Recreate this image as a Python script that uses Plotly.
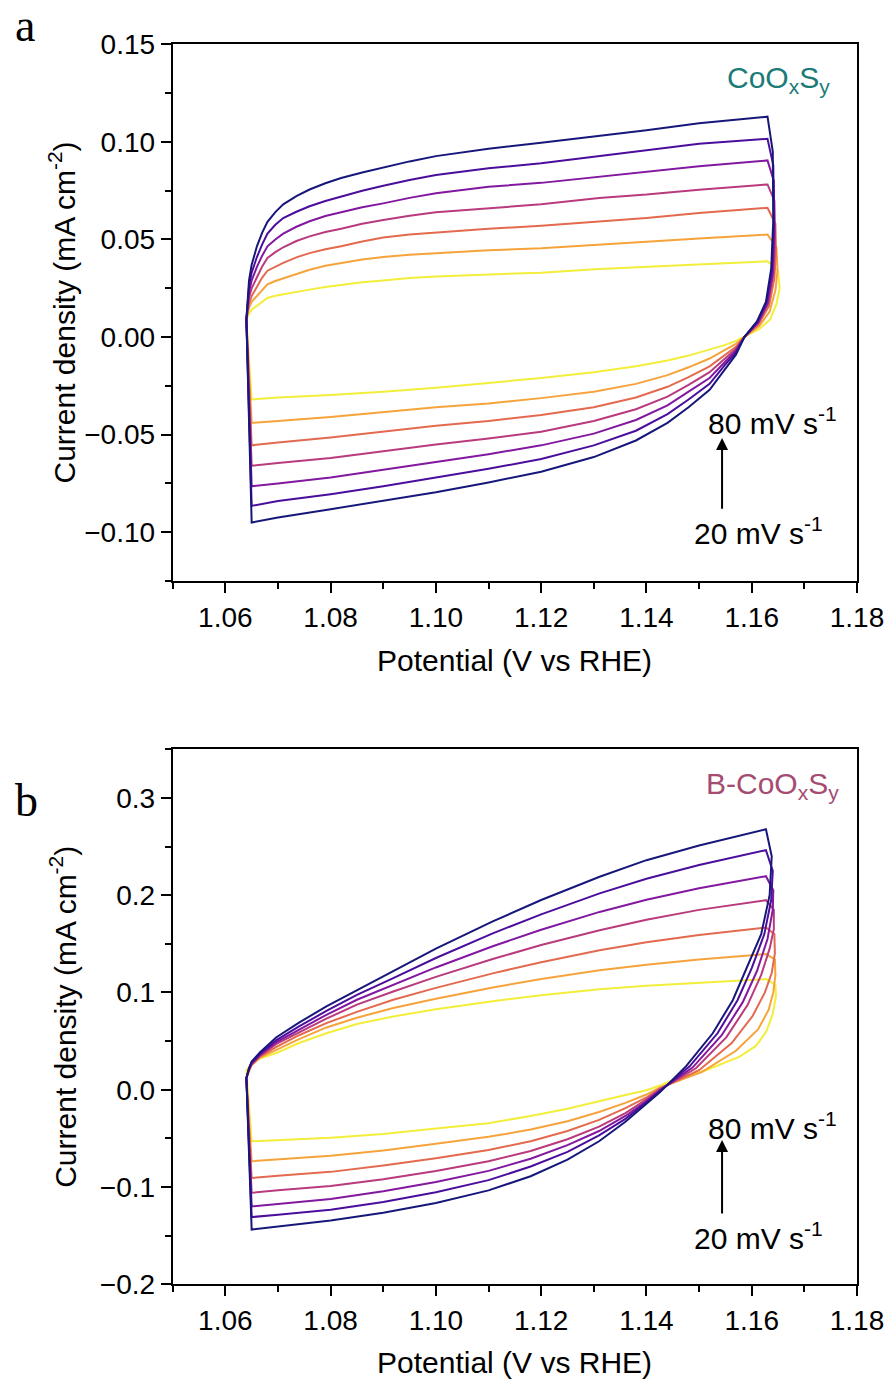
import plotly.graph_objects as go

# ---------------- data ----------------
SPEEDS = [20, 30, 40, 50, 60, 70, 80]  # mV s-1
COLORS = ["#f2ee3a", "#f6a33c", "#e3694f", "#b93a7d", "#8318a0", "#4b0e9c", "#17177b"]

# Panel a (CoOxSy) -- anodic sweep
A_V_UP = [1.0640, 1.0645, 1.0650, 1.0660, 1.0670, 1.0680, 1.0695, 1.0710, 1.0735, 1.0760,
          1.0790, 1.0820, 1.0860, 1.0900, 1.0950, 1.1000, 1.1100, 1.1200, 1.1310, 1.1400,
          1.1500, 1.1630]
A_I_UP = {
    20: [0.009, 0.012, 0.014, 0.016, 0.0182, 0.020, 0.0212, 0.022, 0.0233, 0.0243, 0.0257, 0.0268,
         0.0281, 0.029, 0.0302, 0.031, 0.032, 0.033, 0.0349, 0.036, 0.037, 0.0388],
    30: [0.009, 0.015, 0.018, 0.021, 0.0243, 0.027, 0.0287, 0.030, 0.0325, 0.0345, 0.0365, 0.038,
         0.0397, 0.041, 0.0422, 0.043, 0.0445, 0.0455, 0.0474, 0.049, 0.0505, 0.0525],
    40: [0.009, 0.017, 0.021, 0.026, 0.0305, 0.034, 0.0362, 0.038, 0.0408, 0.043, 0.045, 0.0465,
         0.049, 0.051, 0.0525, 0.0535, 0.0555, 0.057, 0.0593, 0.061, 0.0635, 0.0662],
    50: [0.009, 0.020, 0.025, 0.031, 0.0362, 0.0405, 0.0435, 0.046, 0.0492, 0.0516, 0.0538, 0.0555,
         0.058, 0.060, 0.0622, 0.064, 0.066, 0.068, 0.0713, 0.073, 0.0755, 0.0782],
    60: [0.009, 0.023, 0.029, 0.036, 0.0417, 0.0465, 0.050, 0.053, 0.0565, 0.0593, 0.062, 0.064,
         0.0665, 0.0685, 0.0713, 0.0737, 0.077, 0.079, 0.0821, 0.085, 0.0875, 0.0905],
    70: [0.009, 0.026, 0.033, 0.041, 0.0475, 0.053, 0.0575, 0.061, 0.0642, 0.067, 0.0697, 0.072,
         0.075, 0.0775, 0.0805, 0.083, 0.0865, 0.089, 0.0927, 0.096, 0.099, 0.1016],
    80: [0.009, 0.029, 0.037, 0.0465, 0.0535, 0.059, 0.064, 0.068, 0.0722, 0.0756, 0.0788, 0.0815,
         0.0843, 0.0868, 0.0900, 0.0927, 0.0965, 0.0995, 0.103, 0.106, 0.1095, 0.1129],
}
# Panel a -- switching region at the upper vertex
A_V_TURN = {
    20: [1.1650, 1.1653, 1.1647, 1.1635, 1.1614],
    30: [1.1647, 1.1649, 1.1645, 1.1634, 1.1614],
    40: [1.1645, 1.1646, 1.1643, 1.1633, 1.1613],
    50: [1.1643, 1.1644, 1.1641, 1.1631, 1.1612],
    60: [1.1642, 1.1643, 1.1640, 1.1630, 1.1612],
    70: [1.1641, 1.1642, 1.1638, 1.1628, 1.1611],
    80: [1.1640, 1.1641, 1.1637, 1.1627, 1.1610],
}
A_I_TURN = {
    20: [0.034, 0.025, 0.017, 0.009, 0.004],
    30: [0.046, 0.034, 0.024, 0.013, 0.0055],
    40: [0.058, 0.044, 0.030, 0.016, 0.0065],
    50: [0.070, 0.049, 0.032, 0.017, 0.007],
    60: [0.080, 0.054, 0.033, 0.0175, 0.0075],
    70: [0.088, 0.058, 0.034, 0.018, 0.008],
    80: [0.095, 0.060, 0.035, 0.018, 0.008],
}
# Panel a -- cathodic sweep
A_V_DOWN = [1.1586, 1.157, 1.155, 1.152, 1.148, 1.144, 1.138, 1.130, 1.120, 1.110,
            1.100, 1.090, 1.080, 1.070, 1.065]
A_I_DOWN = {
    20: [0.0, -0.002, -0.004, -0.0065, -0.0095, -0.012, -0.015, -0.018, -0.021, -0.0235, -0.026, -0.028, -0.0297, -0.031, -0.032],
    30: [0.0, -0.0035, -0.0065, -0.011, -0.0155, -0.0195, -0.024, -0.028, -0.0313, -0.034, -0.036, -0.0385, -0.041, -0.043, -0.044],
    40: [0.0, -0.005, -0.009, -0.015, -0.0205, -0.0255, -0.031, -0.036, -0.040, -0.043, -0.0455, -0.0485, -0.0515, -0.054, -0.0555],
    50: [0.0, -0.006, -0.011, -0.018, -0.0245, -0.0305, -0.037, -0.043, -0.0485, -0.052, -0.055, -0.0585, -0.062, -0.0645, -0.066],
    60: [0.0, -0.007, -0.0125, -0.021, -0.028, -0.035, -0.0425, -0.0495, -0.0555, -0.060, -0.064, -0.068, -0.072, -0.075, -0.0765],
    70: [0.0, -0.008, -0.014, -0.024, -0.032, -0.0395, -0.048, -0.0555, -0.0625, -0.0675, -0.072, -0.0765, -0.0805, -0.084, -0.0865],
    80: [0.0, -0.009, -0.016, -0.027, -0.036, -0.044, -0.053, -0.0615, -0.069, -0.0745, -0.0795, -0.084, -0.0882, -0.0925, -0.095],
}

# Panel b (B-CoOxSy) -- anodic sweep
B_V_UP = [1.0640, 1.0645, 1.0650, 1.0666, 1.0697, 1.0740, 1.0792, 1.0850, 1.0919,
          1.1000, 1.1108, 1.1200, 1.1311, 1.1400, 1.1500, 1.1627]
B_I_UP = {
    20: [0.020, 0.024, 0.027, 0.032, 0.0377, 0.048, 0.058, 0.0675, 0.0753, 0.0826, 0.091, 0.0971, 0.1032, 0.107, 0.1102, 0.1137],
    30: [0.012, 0.020, 0.025, 0.033, 0.041, 0.052, 0.064, 0.074, 0.0839, 0.0935, 0.1051, 0.1138, 0.1227, 0.1285, 0.1338, 0.1394],
    40: [0.012, 0.020, 0.026, 0.034, 0.044, 0.056, 0.0685, 0.080, 0.0925, 0.1047, 0.1196, 0.1311, 0.1433, 0.1515, 0.1591, 0.1668],
    50: [0.012, 0.021, 0.026, 0.035, 0.047, 0.059, 0.073, 0.0875, 0.101, 0.116, 0.1344, 0.1487, 0.164, 0.1747, 0.1849, 0.1949],
    60: [0.012, 0.021, 0.027, 0.036, 0.049, 0.062, 0.077, 0.0925, 0.1079, 0.1257, 0.1475, 0.1645, 0.1828, 0.1953, 0.2071, 0.2195],
    70: [0.012, 0.022, 0.028, 0.037, 0.051, 0.065, 0.081, 0.0975, 0.1147, 0.1354, 0.1608, 0.1803, 0.2019, 0.2169, 0.2311, 0.2463],
    80: [0.012, 0.022, 0.029, 0.0385, 0.054, 0.069, 0.0856, 0.102, 0.1216, 0.145, 0.173, 0.195, 0.219, 0.236, 0.251, 0.2678],
}
# Panel b -- switching region at the upper vertex
B_V_TURN = {
    20: [1.1645, 1.1646, 1.1640, 1.1628, 1.1608, 1.1577, 1.1513, 1.1450],
    30: [1.1644, 1.1645, 1.1641, 1.1632, 1.1612, 1.1570, 1.1505],
    40: [1.1643, 1.1644, 1.1638, 1.1625, 1.1602, 1.1562, 1.1500],
    50: [1.1642, 1.1642, 1.1634, 1.1618, 1.1592, 1.1552, 1.1494],
    60: [1.1641, 1.1640, 1.1630, 1.1610, 1.1583, 1.1543, 1.1488],
    70: [1.1640, 1.1637, 1.1624, 1.1600, 1.1573, 1.1535, 1.1482],
    80: [1.1638, 1.1634, 1.1618, 1.1590, 1.1564, 1.1526, 1.1475],
}
B_I_TURN = {
    20: [0.108, 0.096, 0.078, 0.060, 0.045, 0.034, 0.020, 0.010],
    30: [0.134, 0.118, 0.100, 0.082, 0.062, 0.040, 0.018],
    40: [0.160, 0.140, 0.120, 0.100, 0.076, 0.048, 0.020],
    50: [0.185, 0.165, 0.145, 0.118, 0.087, 0.054, 0.022],
    60: [0.205, 0.185, 0.155, 0.122, 0.090, 0.056, 0.023],
    70: [0.225, 0.195, 0.160, 0.125, 0.092, 0.058, 0.024],
    80: [0.240, 0.200, 0.160, 0.125, 0.092, 0.058, 0.024],
}
# Panel b -- cathodic sweep
B_V_DOWN = [1.1425, 1.140, 1.136, 1.131, 1.125, 1.118, 1.110, 1.100, 1.090, 1.080, 1.070, 1.065]
B_I_DOWN = {
    20: [0.004, -0.0005, -0.0055, -0.012, -0.0195, -0.027, -0.0345, -0.040, -0.0455, -0.0495, -0.052, -0.053],
    30: [0.002, -0.005, -0.0135, -0.023, -0.0325, -0.041, -0.0485, -0.0555, -0.0625, -0.068, -0.0715, -0.0736],
    40: [0.001, -0.008, -0.019, -0.031, -0.0425, -0.053, -0.062, -0.0705, -0.078, -0.0845, -0.0885, -0.0908],
    50: [0.0, -0.010, -0.024, -0.038, -0.051, -0.063, -0.0735, -0.0835, -0.092, -0.099, -0.1035, -0.106],
    60: [-0.001, -0.012, -0.027, -0.0425, -0.057, -0.071, -0.0835, -0.095, -0.1045, -0.1125, -0.1175, -0.120],
    70: [-0.002, -0.013, -0.030, -0.047, -0.064, -0.079, -0.093, -0.1055, -0.1155, -0.1235, -0.1285, -0.131],
    80: [-0.003, -0.0146, -0.033, -0.053, -0.072, -0.089, -0.1035, -0.1165, -0.1265, -0.1345, -0.1405, -0.1438],
}

X_TICKS = [1.06, 1.08, 1.10, 1.12, 1.14, 1.16, 1.18]

# ---------------- figure ----------------
W, H = 887, 1381
FONT = "Liberation Sans, Arial, sans-serif"
SERIF = "Liberation Serif, Times New Roman, serif"

fig = go.Figure()


def add_panel(v_up, i_up, v_turn, i_turn, v_down, i_down, xa, ya):
    for s, c in zip(SPEEDS, COLORS):
        xs = list(v_up) + list(v_turn[s]) + list(v_down) + [v_up[0]]
        ys = list(i_up[s]) + list(i_turn[s]) + list(i_down[s]) + [i_up[s][0]]
        fig.add_trace(go.Scatter(x=xs, y=ys, mode="lines", xaxis=xa, yaxis=ya,
                                 line=dict(color=c, width=2), showlegend=False,
                                 name=f"{s} mV s-1", hoverinfo="skip"))


add_panel(A_V_UP, A_I_UP, A_V_TURN, A_I_TURN, A_V_DOWN, A_I_DOWN, "x", "y")
add_panel(B_V_UP, B_I_UP, B_V_TURN, B_I_TURN, B_V_DOWN, B_I_DOWN, "x2", "y2")

x0, x1 = 172.7 / W, 857.0 / W
ya_dom = [1 - 581.0 / H, 1 - 44.3 / H]
yb_dom = [1 - 1284.2 / H, 1 - 749.3 / H]

tickfont = dict(family=FONT, size=28, color="black")
common = dict(showgrid=False, zeroline=False, showline=True, linecolor="black", linewidth=2,
              mirror=True, ticks="outside", ticklen=10, tickwidth=2, tickcolor="black",
              tickfont=tickfont, automargin=False)

xcommon = dict(common, range=[1.05, 1.18], tickvals=X_TICKS, ticktext=[f"{t:.2f}" for t in X_TICKS],
               minor=dict(dtick=0.01, tick0=1.05, ticks="outside", ticklen=6, tickwidth=2,
                          tickcolor="black", showgrid=False))

fig.update_layout(
    width=W, height=H, autosize=False, margin=dict(l=0, r=0, t=0, b=0, pad=0),
    paper_bgcolor="white", plot_bgcolor="white", showlegend=False,
    xaxis=dict(xcommon, domain=[x0, x1], anchor="y"),
    yaxis=dict(common, domain=ya_dom, anchor="x", range=[-0.125, 0.15], dtick=0.05, tick0=0,
               tickformat=".2f",
               minor=dict(dtick=0.025, tick0=0, ticks="outside", ticklen=6, tickwidth=2,
                          tickcolor="black", showgrid=False)),
    xaxis2=dict(xcommon, domain=[x0, x1], anchor="y2"),
    yaxis2=dict(common, domain=yb_dom, anchor="x2", range=[-0.2, 0.35], dtick=0.1, tick0=0,
                tickformat=".1f",
                minor=dict(dtick=0.05, tick0=0, ticks="outside", ticklen=6, tickwidth=2,
                           tickcolor="black", showgrid=False)),
)

ann = []
def px(xp):
    return xp / W
def py(yp):
    return 1 - yp / H

title_font = dict(family=FONT, size=30, color="black")
# axis titles
for yc, xc_title in [(312.5, 660), (1016.8, 1362)]:
    ann.append(dict(text="Current density (mA cm<sup>-2</sup>)", x=px(63), y=py(yc), xref="paper",
                    yref="paper", textangle=-90, showarrow=False, font=title_font,
                    xanchor="center", yanchor="middle"))
    ann.append(dict(text="Potential (V vs RHE)", x=px(514.8), y=py(xc_title), xref="paper",
                    yref="paper", showarrow=False, font=title_font, xanchor="center",
                    yanchor="middle"))

# panel letters
ann.append(dict(text="a", x=px(25), y=py(26), xref="paper", yref="paper", showarrow=False,
                font=dict(family=SERIF, size=46, color="black"), xanchor="center", yanchor="middle"))
ann.append(dict(text="b", x=px(26), y=py(800), xref="paper", yref="paper", showarrow=False,
                font=dict(family=SERIF, size=46, color="black"), xanchor="center", yanchor="middle"))

# sample labels
ann.append(dict(text="CoO<sub>x</sub>S<sub>y</sub>", x=px(832), y=py(80), xref="paper", yref="paper",
                showarrow=False, font=dict(family=FONT, size=30, color="#1b7b76"),
                xanchor="right", yanchor="middle"))
ann.append(dict(text="B-CoO<sub>x</sub>S<sub>y</sub>", x=px(841), y=py(785), xref="paper",
                yref="paper", showarrow=False, font=dict(family=FONT, size=30, color="#a54c72"),
                xanchor="right", yanchor="middle"))

# scan-rate arrows and labels
arrow_x = 1.05 + (722.7 - 172.7) / 5270
for xa, ya, head, tail, y80, y20 in [("x", "y", -0.0517, -0.0887, -0.043, -0.0994),
                                      ("x2", "y2", -0.0518, -0.1289, -0.0375, -0.1505)]:
    ann.append(dict(x=arrow_x, y=head, ax=arrow_x, ay=tail, xref=xa, yref=ya, axref=xa, ayref=ya,
                    text="", showarrow=True, arrowhead=2, arrowsize=1.2, arrowwidth=2,
                    arrowcolor="black"))
    ann.append(dict(text="80 mV s<sup>-1</sup>", x=1.05 + (773 - 172.7) / 5270, y=y80, xref=xa,
                    yref=ya, showarrow=False, font=title_font, xanchor="center", yanchor="middle"))
    ann.append(dict(text="20 mV s<sup>-1</sup>", x=1.05 + (759.5 - 172.7) / 5270, y=y20, xref=xa,
                    yref=ya, showarrow=False, font=title_font, xanchor="center", yanchor="middle"))

fig.update_layout(annotations=ann)
fig.write_html("out.html")
